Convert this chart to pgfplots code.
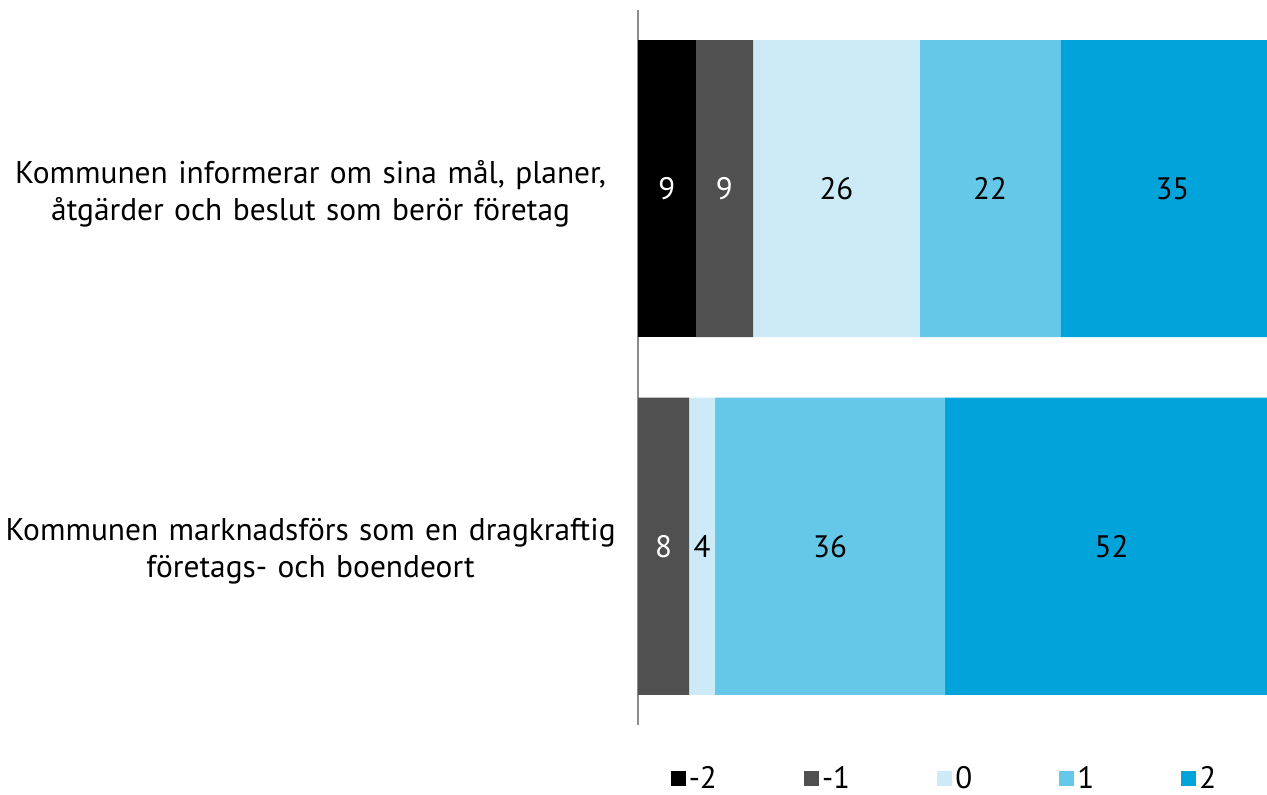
\documentclass[border=0pt]{standalone}
\usepackage{pgfplots}
\pgfplotsset{compat=1.18}
\usepackage{fontspec}
\setmainfont{PT Sans}
\definecolor{cA}{HTML}{000000}
\definecolor{cB}{HTML}{505050}
\definecolor{cC}{HTML}{CCEBF6}
\definecolor{cD}{HTML}{66C8E9}
\definecolor{cE}{HTML}{00A3DA}
\begin{document}
\begin{tikzpicture}
\useasboundingbox (0,0) rectangle (633.5bp,397.5bp);
\begin{axis}[
  at={(319bp,35bp)}, anchor=south west,
  width=314.5bp, height=357.5bp, scale only axis,
  xmin=0, xmax=98.28, ymin=-0.5, ymax=1.5,
  xbar stacked, bar width=148.5bp,
  axis y line*=left, axis x line=none,
  y axis line style={draw=gray!90, line width=0.6bp},
  xtick=\empty,
  ytick={0,1},
  yticklabels={{Kommunen marknadsförs som en dragkraftig\\företags- och boendeort},{Kommunen informerar om sina mål, planer,\\åtgärder och beslut som berör företag}},
  major tick length=0pt,
  yticklabel style={text width=310bp, align=center, inner sep=0pt, xshift=-8.5bp, yshift=-2.5bp, font=\fontsize{15.7bp}{18.5bp}\selectfont},
  legend columns=5,
  legend style={at={(0.488,-0.075)}, anchor=center, draw=none, fill=none,
    font=\fontsize{15.5bp}{16bp}\selectfont,
    nodes={inner xsep=1.5bp, inner ysep=0pt},
    /tikz/every even column/.append style={column sep=42bp}},
  legend image code/.code={\fill[#1, draw=none] (0bp,-3.8bp) rectangle (7.6bp,3.8bp);},
]
\addplot[fill=cA, draw=none] coordinates {(0,0) (9,1)};
\addplot[fill=cB, draw=none] coordinates {(8,0) (9,1)};
\addplot[fill=cC, draw=none] coordinates {(4,0) (26,1)};
\addplot[fill=cD, draw=none] coordinates {(36,0) (22,1)};
\addplot[fill=cE, draw=none] coordinates {(52,0) (35,1)};
\legend{-2,-1,0,1,2}
\end{axis}
\begin{axis}[
  at={(319bp,35bp)}, anchor=south west,
  width=314.5bp, height=357.5bp, scale only axis,
  xmin=0, xmax=98.28, ymin=-0.5, ymax=1.5,
  hide axis, clip=false,
]
\addplot[draw=none, nodes near coords, point meta=explicit symbolic,
  every node near coord/.append style={anchor=center, text=white, font=\fontsize{15.5bp}{16bp}\selectfont}]
  table[meta=lab] {
x y lab
4.5 1 9
13.5 1 9
4 0 8
};
\addplot[draw=none, nodes near coords, point meta=explicit symbolic,
  every node near coord/.append style={anchor=center, text=black, font=\fontsize{15.5bp}{16bp}\selectfont}]
  table[meta=lab] {
x y lab
31 1 26
55 1 22
83.5 1 35
10 0 4
30 0 36
74 0 52
};
\end{axis}
\end{tikzpicture}
\end{document}
